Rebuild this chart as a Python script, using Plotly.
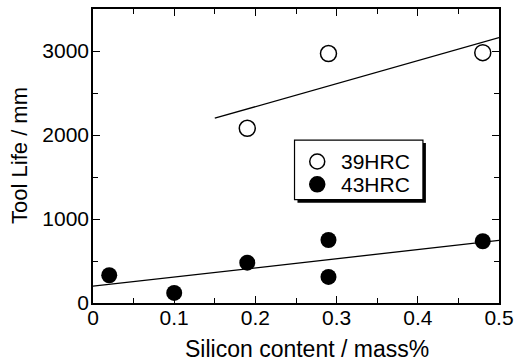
import plotly.graph_objects as go

# Data
si_39 = [0.19, 0.29, 0.48]
life_39 = [2080, 2970, 2980]
si_43 = [0.02, 0.10, 0.19, 0.29, 0.29, 0.48]
life_43 = [330, 120, 480, 750, 310, 735]
fit39_x = [0.15, 0.50]
fit39_y = [2200, 3160]
fit43_x = [0.0, 0.50]
fit43_y = [200, 745]
legend_labels = ["39HRC", "43HRC"]

FONT = "Liberation Sans, Arial, sans-serif"

# plot area in pixels
L, R, T, B = 93, 504, 7, 303
W, H = R - L, B - T


def px(x):
    return (x - L) / W


def py(y):
    return (B - y) / H


fig = go.Figure()
fig.add_trace(go.Scatter(x=fit39_x, y=fit39_y, mode="lines",
                         line=dict(color="black", width=1.3), showlegend=False, hoverinfo="skip"))
fig.add_trace(go.Scatter(x=fit43_x, y=fit43_y, mode="lines",
                         line=dict(color="black", width=1.3), showlegend=False, hoverinfo="skip"))
fig.add_trace(go.Scatter(x=si_39, y=life_39, mode="markers", name=legend_labels[0], showlegend=False,
                         marker=dict(symbol="circle-open", size=16, color="black",
                                     line=dict(width=1.5, color="black"))))
fig.add_trace(go.Scatter(x=si_43, y=life_43, mode="markers", name=legend_labels[1], showlegend=False,
                         marker=dict(symbol="circle", size=16, color="black")))

axis_common = dict(showline=True, linecolor="black", linewidth=1.5, mirror="ticks",
                   ticks="inside", ticklen=7, tickwidth=1.3, tickcolor="black",
                   showgrid=False, zeroline=False,
                   tickfont=dict(family=FONT, size=21, color="black"))

fig.update_xaxes(range=[0, 0.5], dtick=0.1, tickangle=0, ticklabelstandoff=-5,
                 minor=dict(dtick=0.05, ticks="inside", ticklen=5, tickwidth=1.2, tickcolor="black"),
                 **axis_common)
fig.update_yaxes(range=[0, 3500], dtick=1000, ticklabelstandoff=-2,
                 minor=dict(dtick=500, ticks="inside", ticklen=5, tickwidth=1.2, tickcolor="black"),
                 **axis_common)

# axis titles as annotations
fig.add_annotation(text="Silicon content / mass%", xref="paper", yref="paper",
                   x=px(310), y=py(349), xanchor="center", yanchor="middle", showarrow=False,
                   font=dict(family=FONT, size=23, color="black"))
fig.add_annotation(text="Tool Life / mm", xref="paper", yref="paper", textangle=-90,
                   x=px(18), y=py(154), xanchor="center", yanchor="middle", showarrow=False,
                   font=dict(family=FONT, size=22, color="black"))

# manual legend: shadow, box, symbols, labels
fig.add_shape(type="rect", xref="paper", yref="paper",
              x0=px(300), x1=px(430), y0=py(202), y1=py(142),
              fillcolor="black", line=dict(width=0), layer="above")
fig.add_shape(type="rect", xref="paper", yref="paper",
              x0=px(297), x1=px(427), y0=py(199), y1=py(139),
              fillcolor="white", line=dict(width=1.2, color="black"), layer="above")
leg_y = [160.5, 183.5]
for i, lab in enumerate(legend_labels):
    fig.add_shape(type="circle", xref="paper", yref="paper",
                  xsizemode="pixel", ysizemode="pixel",
                  xanchor=px(320), yanchor=py(leg_y[i]),
                  x0=-7.5, x1=7.5, y0=-7.5, y1=7.5,
                  fillcolor="white" if i == 0 else "black",
                  line=dict(width=1.5, color="black"), layer="above")
    fig.add_annotation(text=lab, xref="paper", yref="paper",
                       x=px(343), y=py(leg_y[i]), xanchor="left", yanchor="middle", showarrow=False,
                       borderpad=0,
                       font=dict(family=FONT, size=21, color="black"))

fig.update_layout(
    width=521, height=362,
    margin=dict(l=L, r=521 - R, t=T, b=362 - B),
    paper_bgcolor="white", plot_bgcolor="white",
    showlegend=False,
)

fig.write_html("out.html")
